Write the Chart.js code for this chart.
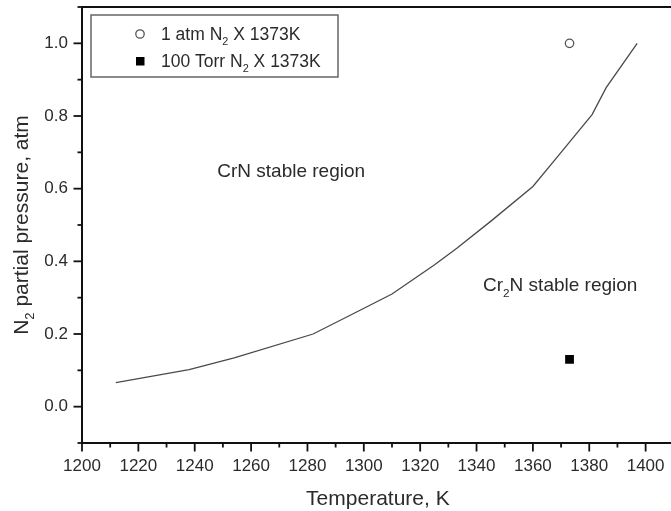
<!DOCTYPE html>
<html><head><meta charset="utf-8">
<script src="https://cdn.jsdelivr.net/npm/chart.js@4.4.1/dist/chart.umd.min.js"></script>
<style>html,body{margin:0;padding:0;overflow:hidden;background:#fff;width:671px;height:511px}canvas{display:block}</style>
</head><body><canvas id="c" width="680" height="511"></canvas>
<script>
// ---- data ----
const curveTemps     = [1212, 1238, 1254, 1282, 1295, 1310, 1325, 1333, 1345, 1360, 1370, 1381, 1386, 1397];
const curvePressures = [0.066, 0.102, 0.134, 0.200, 0.251, 0.310, 0.390, 0.436, 0.510, 0.606, 0.700, 0.804, 0.878, 1.000];
const oneAtmTemps     = [1373];
const oneAtmPressures = [1.0];
const torrTemps       = [1373];
const torrPressures   = [0.13];
const xRange = [1200, 1410];
const yRange = [-0.1, 1.1];
const legendLabels = [
  [{t:'1 atm N'},{t:'2',sub:true},{t:' X 1373K'}],
  [{t:'100 Torr N'},{t:'2',sub:true},{t:' X 1373K'}]
];
const regionLabels = [
  {x:1248, y:0.652, parts:[{t:'CrN stable region'}]},
  {x:1342.3, y:0.337, parts:[{t:'Cr'},{t:'2',sub:true},{t:'N stable region'}]}
];
const xTitle = [{t:'Temperature, K'}];
const yTitle = [{t:'N'},{t:'2',sub:true},{t:' partial pressure, atm'}];

const FONT = '"Liberation Sans", Arial, sans-serif';
const TEXT = '#2b2b2b';

function richWidth(ctx, parts, size){
  let w = 0;
  for (const p of parts){
    ctx.font = (p.sub ? size*0.62 : size) + 'px ' + FONT;
    w += ctx.measureText(p.t).width;
  }
  return w;
}
function drawRich(ctx, parts, x, y, size, align){
  const w = richWidth(ctx, parts, size);
  let cx = align === 'center' ? x - w/2 : (align === 'right' ? x - w : x);
  ctx.textBaseline = 'alphabetic';
  ctx.textAlign = 'left';
  for (const p of parts){
    ctx.font = (p.sub ? size*0.62 : size) + 'px ' + FONT;
    ctx.fillText(p.t, cx, p.sub ? y + size*0.28 : y);
    cx += ctx.measureText(p.t).width;
  }
}

const decor = {
  id: 'decor',
  afterDraw(chart){
    const ctx = chart.ctx, ca = chart.chartArea;
    const xs = chart.scales.x, ys = chart.scales.y;
    ctx.save();
    // top frame line
    ctx.strokeStyle = '#111'; ctx.lineWidth = 2;
    ctx.beginPath(); ctx.moveTo(ca.left-1, ca.top); ctx.lineTo(ca.right, ca.top); ctx.stroke();
    // tick marks (major/minor)
    ctx.lineWidth = 1.8;
    for (const t of xs.ticks){
      const px = xs.getPixelForValue(t.value);
      const major = Math.round(t.value) % 20 === 0;
      ctx.beginPath(); ctx.moveTo(px, ca.bottom); ctx.lineTo(px, ca.bottom + (major ? 8.5 : 4.5)); ctx.stroke();
    }
    for (const t of ys.ticks){
      const py = ys.getPixelForValue(t.value);
      const major = Math.round(t.value*10) % 2 === 0;
      ctx.beginPath(); ctx.moveTo(ca.left, py); ctx.lineTo(ca.left - (major ? 8.5 : 4.5), py); ctx.stroke();
    }
    ctx.fillStyle = TEXT;
    // axis titles
    drawRich(ctx, xTitle, (ca.left+ca.right)/2, 505, 21, 'center');
    ctx.save();
    ctx.translate(28, (ca.top+ca.bottom)/2);
    ctx.rotate(-Math.PI/2);
    drawRich(ctx, yTitle, 0, 0, 21, 'center');
    ctx.restore();
    // region labels
    for (const r of regionLabels){
      const px = xs.getPixelForValue(r.x), py = ys.getPixelForValue(r.y);
      drawRich(ctx, r.parts, px, py + 7, 19, 'left');
    }
    // legend box
    ctx.strokeStyle = '#666'; ctx.lineWidth = 1.5;
    ctx.strokeRect(91, 15, 247, 62);
    // legend markers
    ctx.strokeStyle = '#555'; ctx.lineWidth = 1.3; ctx.fillStyle = '#fff';
    ctx.beginPath(); ctx.arc(140, 34, 4.2, 0, Math.PI*2); ctx.fill(); ctx.stroke();
    ctx.fillStyle = '#000';
    ctx.fillRect(136, 57, 8.5, 8.5);
    ctx.fillStyle = TEXT;
    drawRich(ctx, legendLabels[0], 161, 40, 17.5, 'left');
    drawRich(ctx, legendLabels[1], 161, 67, 17.5, 'left');
    ctx.restore();
  }
};

const curve = curveTemps.map((t,i) => ({x:t, y:curvePressures[i]}));
const oneAtm = oneAtmTemps.map((t,i) => ({x:t, y:oneAtmPressures[i]}));
const torr = torrTemps.map((t,i) => ({x:t, y:torrPressures[i]}));

new Chart(document.getElementById('c'), {
  type: 'scatter',
  data: { datasets: [
    { data: curve, showLine: true, borderColor: '#4a4a4a', borderWidth: 1.3, pointRadius: 0, tension: 0, fill: false },
    { data: oneAtm, pointStyle: 'circle', pointRadius: 4.2, borderColor: '#555', borderWidth: 1.3, backgroundColor: '#fff' },
    { data: torr, pointStyle: 'rect', pointRadius: 6.2, borderColor: '#000', borderWidth: 0, backgroundColor: '#000' }
  ]},
  options: {
    responsive: false, animation: false, devicePixelRatio: 1,
    layout: { padding: { top: 7, right: 6, left: 0, bottom: 0 } },
    plugins: { legend: { display: false }, tooltip: { enabled: false } },
    scales: {
      x: {
        type: 'linear', min: xRange[0], max: xRange[1],
        afterFit(s){ s.height = 68; s.paddingLeft = 0; s.paddingRight = 0; },
        ticks: { stepSize: 10, autoSkip: false, maxRotation: 0, padding: 13, color: TEXT,
                 font: { family: FONT, size: 17 },
                 callback: v => (Math.round(v) % 20 === 0 ? String(Math.round(v)) : '') },
        grid: { display: true, drawOnChartArea: false, drawTicks: false },
        border: { color: '#111', width: 2 }
      },
      y: {
        type: 'linear', min: yRange[0], max: yRange[1],
        afterFit(s){ s.width = 82; s.paddingTop = 0; s.paddingBottom = 0; },
        ticks: { stepSize: 0.1, autoSkip: false, padding: 14, color: TEXT,
                 font: { family: FONT, size: 17 },
                 callback: v => (Math.round(v*10) % 2 === 0 ? (Math.round(v*10)/10).toFixed(1) : '') },
        grid: { display: true, drawOnChartArea: false, drawTicks: false },
        border: { color: '#111', width: 2 }
      }
    }
  },
  plugins: [decor]
});
</script></body></html>
